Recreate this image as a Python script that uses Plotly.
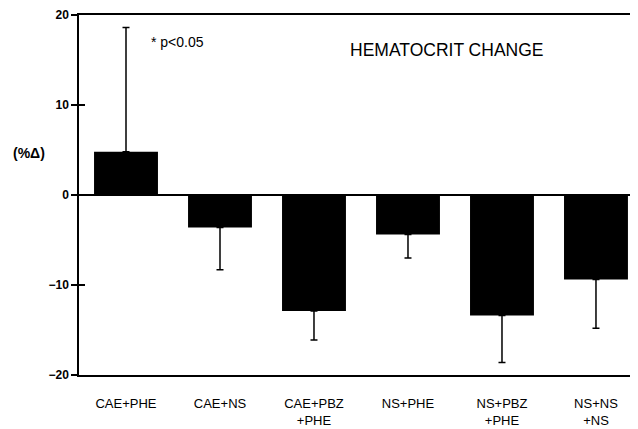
import plotly.graph_objects as go

categories = ["CAE+PHE", "CAE+NS", "CAE+PBZ<br>+PHE", "NS+PHE", "NS+PBZ<br>+PHE", "NS+NS<br>+NS"]
means = [4.8, -3.6, -12.9, -4.4, -13.4, -9.4]
err_size = [13.8, 4.7, 3.2, 2.6, 5.2, 5.4]
y_ticks = [20, 10, 0, -10, -20]

err_up = [e if m >= 0 else 0 for m, e in zip(means, err_size)]
err_down = [e if m < 0 else 0 for m, e in zip(means, err_size)]

FONT = "Liberation Sans, Arial, Helvetica, sans-serif"

fig = go.Figure()
fig.add_trace(go.Bar(
    x=categories, y=means, width=0.68,
    marker=dict(color="black", line=dict(width=0)),
    error_y=dict(type="data", symmetric=False, array=err_up, arrayminus=err_down,
                 color="black", thickness=1.5, width=3.5),
    showlegend=False,
))
fig.add_trace(go.Scatter(x=[categories[0]], y=[0], yaxis="y2", mode="markers",
                         marker=dict(opacity=0), showlegend=False, hoverinfo="skip"))

# page body has an 8px default margin, so the figure is sized/offset to compensate
fig.update_layout(
    width=630, height=421,
    margin=dict(l=71, r=0, t=7, b=54, autoexpand=False),
    paper_bgcolor="white", plot_bgcolor="white",
    font=dict(family=FONT, color="black"),
    xaxis=dict(
        type="category", range=[-0.5, 5.447], automargin=False,
        showline=True, linecolor="black", linewidth=1.5, mirror=True,
        ticks="outside", ticklen=16, tickcolor="rgba(0,0,0,0)",
        tickfont=dict(size=13, family=FONT, color="black"),
        showgrid=False, zeroline=False,
    ),
    yaxis=dict(
        range=[-20, 20], tickvals=y_ticks, automargin=False,
        showline=True, linecolor="black", linewidth=1.5,
        ticks="outside", ticklen=6, tickwidth=1.5, tickcolor="black",
        tickfont=dict(size=12, family=FONT, color="black", weight="bold"),
        showgrid=False, zeroline=True, zerolinecolor="black", zerolinewidth=2,
    ),
    yaxis2=dict(
        range=[-20, 20], tickvals=y_ticks, overlaying="y", side="left", automargin=False,
        ticks="inside", ticklen=6, tickwidth=1.5, tickcolor="black",
        showticklabels=False, showgrid=False, zeroline=False, showline=False,
    ),
    bargap=0.32,
)

fig.add_annotation(text="(%Δ)", xref="paper", yref="y", x=-0.058, y=4.7,
                   xanchor="right", yanchor="middle", showarrow=False,
                   font=dict(size=14, family=FONT, color="black", weight="bold"))
fig.add_annotation(text="* p&lt;0.05", xref="x", yref="y", x=0.245, y=17,
                   xanchor="left", yanchor="middle", showarrow=False,
                   font=dict(size=14, family=FONT, color="black"))
fig.add_annotation(text="HEMATOCRIT CHANGE", xref="x", yref="y", x=2.36, y=16.1,
                   xanchor="left", yanchor="middle", showarrow=False,
                   font=dict(size=17.5, family=FONT, color="black"))

fig.write_html("out.html")
